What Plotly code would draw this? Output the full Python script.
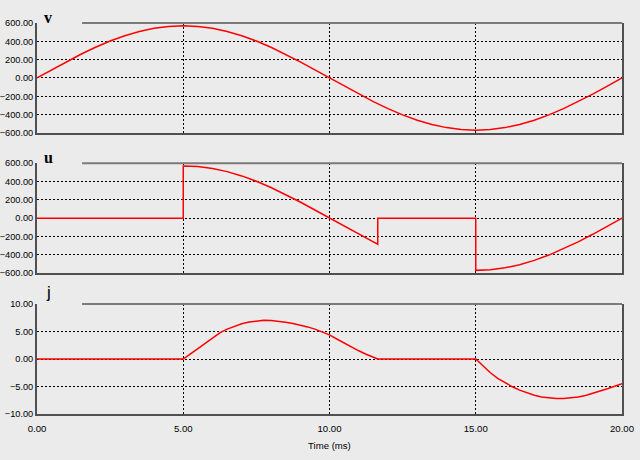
import plotly.graph_objects as go

# ---- data ----
v_time = [0, 0.5, 1, 1.5, 2, 2.5, 3, 3.5, 4, 4.5, 5, 5.5, 6, 6.5, 7, 7.5, 8, 8.5, 9, 9.5,
          10, 10.5, 11, 11.5, 12, 12.5, 13, 13.5, 14, 14.5, 15, 15.5, 16, 16.5, 17, 17.5,
          18, 18.5, 19, 19.5, 20]
v_vals = [0, 89.2, 176.1, 258.8, 335.0, 403.1, 461.1, 507.9, 542.1, 563.0, 570.0,
          563.0, 542.1, 507.9, 461.1, 403.1, 335.0, 258.8, 176.1, 89.2,
          0, -89.2, -176.1, -258.8, -335.0, -403.1, -461.1, -507.9, -542.1, -563.0, -570.0,
          -563.0, -542.1, -507.9, -461.1, -403.1, -335.0, -258.8, -176.1, -89.2, 0]

u_time = [0, 5, 5, 5.5, 6, 6.5, 7, 7.5, 8, 8.5, 9, 9.5, 10, 10.5, 11, 11.5, 11.65, 11.65,
          15, 15, 15.5, 16, 16.5, 17, 17.5, 18, 18.5, 19, 19.5, 20]
u_vals = [0, 0, 570.0, 563.0, 542.1, 507.9, 461.1, 403.1, 335.0, 258.8, 176.1, 89.2, 0,
          -89.2, -176.1, -258.8, -285.0, 0,
          0, -570.0, -563.0, -542.1, -507.9, -461.1, -403.1, -335.0, -258.8, -176.1, -89.2, 0]

j_time = [0, 5, 5.25, 5.5, 5.75, 6, 6.25, 6.5, 6.75, 7, 7.25, 7.5, 7.75, 8, 8.25, 8.5,
          8.75, 9, 9.25, 9.5, 9.75, 10, 10.25, 10.5, 10.75, 11, 11.25, 11.5, 11.65,
          15, 15.25, 15.5, 15.75, 16, 16.25, 16.5, 16.75, 17, 17.25, 17.5, 17.75, 18,
          18.25, 18.5, 18.75, 19, 19.25, 19.5, 19.75, 20]
j_vals = [0, 0, 0.95, 1.9, 2.85, 3.85, 4.75, 5.45, 6.0, 6.42, 6.72, 6.92, 7.05, 7.03, 6.9, 6.7,
          6.45, 6.17, 5.85, 5.45, 4.98, 4.4, 3.65, 2.9, 2.18, 1.5, 0.88, 0.3, 0,
          0, -1.3, -2.5, -3.5, -4.35, -5.05, -5.65, -6.15, -6.6, -6.92, -7.12, -7.2, -7.2,
          -7.1, -6.92, -6.62, -6.25, -5.85, -5.4, -4.95, -4.5]

x_ticks = [0, 5, 10, 15, 20]
vu_ticks = [-600, -400, -200, 0, 200, 400, 600]
j_ticks = [-10, -5, 0, 5, 10]
panel_labels = ["v", "u", "j"]

BG = "#ebebeb"
LINE = "#505050"
TICKFONT = dict(family="Liberation Sans Narrow, Arial Narrow, Liberation Sans, Arial", size=9.6, color="#000000")
YTICKFONT = dict(family="Liberation Sans Narrow, Arial Narrow, Liberation Sans, Arial", size=9.2, color="#000000")

fig = go.Figure()
fig.add_trace(go.Scatter(x=v_time, y=v_vals, mode="lines", line=dict(color="#ff0000", width=1.5),
                         xaxis="x", yaxis="y", showlegend=False, hoverinfo="skip"))
fig.add_trace(go.Scatter(x=u_time, y=u_vals, mode="lines", line=dict(color="#ff0000", width=1.5),
                         xaxis="x2", yaxis="y2", showlegend=False, hoverinfo="skip"))
fig.add_trace(go.Scatter(x=j_time, y=j_vals, mode="lines", line=dict(color="#ff0000", width=1.5),
                         xaxis="x3", yaxis="y3", showlegend=False, hoverinfo="skip"))

H_TOP, H_BOT = 23, 414.3
PH = H_BOT - H_TOP


def dom(top, bottom):
    return [(H_BOT - bottom) / PH, (H_BOT - top) / PH]


doms = [dom(23, 133), dom(163.3, 273.3), dom(304.3, 414.3)]

grid = dict(showgrid=True, gridcolor="#000000", gridwidth=1, griddash="2px,2px")

layout = dict(
    width=640, height=460,
    margin=dict(l=37, r=18, t=23, b=460 - H_BOT),
    paper_bgcolor=BG, plot_bgcolor=BG,
    showlegend=False,
)
for i in range(3):
    sx = "" if i == 0 else str(i + 1)
    yt = j_ticks if i == 2 else vu_ticks
    rng = [-10, 10] if i == 2 else [-600, 600]
    layout["xaxis" + sx] = dict(
        domain=[0, 1], range=[0, 20], anchor="y" + sx, tickvals=x_ticks, tickformat=".2f",
        showticklabels=(i == 2), ticks="outside" if i == 2 else "", ticklen=4, tickcolor=BG,
        showline=True, linecolor=LINE, linewidth=2, zeroline=False, tickfont=TICKFONT,
        automargin=False, **grid)
    layout["yaxis" + sx] = dict(
        domain=doms[i], range=rng, anchor="x" + sx, tickvals=yt, tickformat=".2f",
        showline=True, linecolor=LINE, linewidth=2, mirror=True, zeroline=False,
        tickfont=YTICKFONT, ticks="", automargin=False, **grid)
fig.update_layout(**layout)

shapes = []
annotations = []
for i in range(3):
    sx = "" if i == 0 else str(i + 1)
    shapes.append(dict(type="line", xref="x" + sx + " domain", yref="y" + sx + " domain",
                       x0=0.077, x1=1, y0=1, y1=1, line=dict(color="#7a7a7a", width=2)))
label_pos = [17, 158, 293]
for i, lab in enumerate(panel_labels):
    fam = "Liberation Sans, Arial" if lab == "j" else "Liberation Serif, Times New Roman"
    sz = 17 if lab == "j" else 16
    annotations.append(dict(text=("<b>%s</b>" % lab) if lab != "j" else lab,
                            xref="paper", yref="paper",
                            x=(48 - 37) / 585, y=(H_BOT - label_pos[i]) / PH,
                            xanchor="center", yanchor="middle", showarrow=False,
                            font=dict(family=fam, size=sz, color="#000000")))
annotations.append(dict(text="Time (ms)", xref="paper", yref="paper", x=0.5,
                        y=(H_BOT - 446) / PH, xanchor="center", yanchor="middle",
                        showarrow=False, font=TICKFONT))
fig.update_layout(shapes=shapes, annotations=annotations)

fig.write_html("out.html", config={"displayModeBar": False},
               post_script="document.body.style.margin='0';document.body.style.overflow='hidden';")
